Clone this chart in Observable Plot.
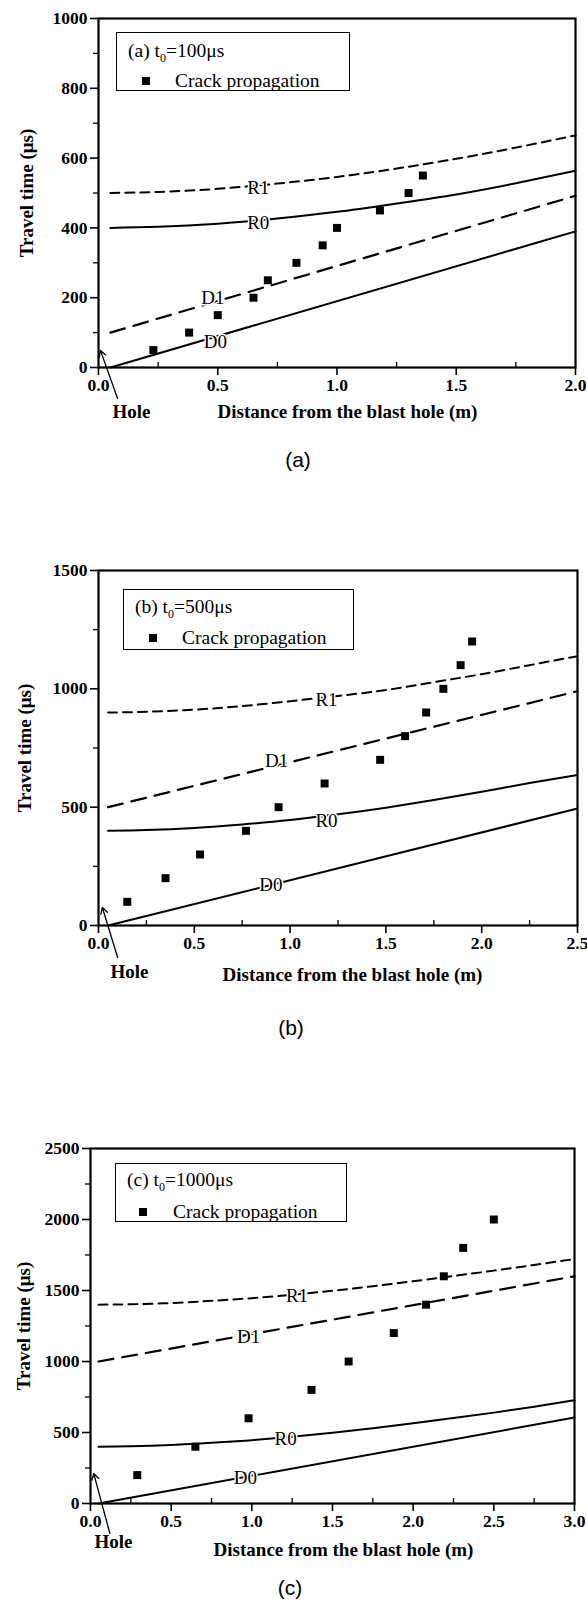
<!DOCTYPE html>
<html><head><meta charset="utf-8">
<script src="https://cdn.jsdelivr.net/npm/d3@7"></script>
<script src="https://cdn.jsdelivr.net/npm/@observablehq/plot@0.6"></script>
<style>
body{margin:0;background:#fff;}
#wrap{position:relative;width:587px;height:1603px;background:#fff;font-family:'Liberation Serif',serif;overflow:hidden;}
.panel{position:absolute;left:0;}
.legend{position:absolute;border:1.6px solid #000;background:#fff;box-sizing:border-box;}
.lt{position:absolute;font-family:'Liberation Serif',serif;font-size:19.5px;line-height:22px;white-space:nowrap;color:#000;}
.lt sub{font-size:12px;}
.mk{position:absolute;width:8px;height:8px;background:#000;}
.cap{position:absolute;font-family:'Liberation Sans',sans-serif;font-size:21px;line-height:22px;transform:translate(-50%,-50%);color:#000;}
</style></head><body><div id="wrap"></div>
<script>
// ---------- Panel (a) t0 = 100 us ----------
const curveXA = [0.05, 0.25, 0.5, 0.75, 1.0, 1.25, 1.5, 1.75, 2.0];
const r0A = [400, 403, 412, 427, 446, 470, 496, 528, 564];
const r1A = [500, 503, 512, 527, 546, 570, 598, 630, 665];
const dXA = [0.05, 2.0];
const d0A = [0, 390];
const d1A = [100, 492];
const crackXA = [0.23, 0.38, 0.5, 0.65, 0.71, 0.83, 0.94, 1.0, 1.18, 1.3, 1.36];
const crackYA = [50, 100, 150, 200, 250, 300, 350, 400, 450, 500, 550];
const labelTextA = ["R1", "R0", "D1", "D0"];
const labelXA = [0.67, 0.67, 0.48, 0.49];
const labelYA = [514, 415, 198, 74];
const holeArrowA = [0.08, -89, 0.008, 49];

// ---------- Panel (b) t0 = 500 us ----------
const curveXB = [0.05, 0.25, 0.5, 0.75, 1.0, 1.25, 1.5, 1.75, 2.0, 2.25, 2.5];
const r0B = [400, 403, 412, 427, 446, 470, 498, 530, 565, 602, 636];
const r1B = [900, 903, 912, 927, 948, 970, 995, 1028, 1062, 1100, 1138];
const dXB = [0.05, 2.5];
const d0B = [0, 494];
const d1B = [500, 990];
const crackXB = [0.15, 0.35, 0.53, 0.77, 0.94, 1.18, 1.47, 1.6, 1.71, 1.8, 1.89, 1.95];
const crackYB = [100, 200, 300, 400, 500, 600, 700, 800, 900, 1000, 1100, 1200];
const labelTextB = ["R1", "R0", "D1", "D0"];
const labelXB = [1.19, 1.19, 0.93, 0.9];
const labelYB = [954, 440, 694, 172];
const holeArrowB = [0.1, -135, 0.02, 76];

// ---------- Panel (c) t0 = 1000 us ----------
const curveXC = [0.05, 0.25, 0.5, 0.75, 1.0, 1.25, 1.5, 1.75, 2.0, 2.25, 2.5, 2.75, 3.0];
const r0C = [400, 403, 412, 427, 446, 470, 498, 530, 565, 602, 640, 682, 728];
const r1C = [1400, 1403, 1412, 1427, 1446, 1470, 1498, 1530, 1565, 1602, 1640, 1680, 1722];
const dXC = [0.05, 3.0];
const d0C = [0, 605];
const d1C = [1000, 1600];
const crackXC = [0.29, 0.65, 0.98, 1.37, 1.6, 1.88, 2.08, 2.19, 2.31, 2.5];
const crackYC = [200, 400, 600, 800, 1000, 1200, 1400, 1600, 1800, 2000];
const labelTextC = ["R1", "R0", "D1", "D0"];
const labelXC = [1.28, 1.21, 0.98, 0.96];
const labelYC = [1460, 453, 1171, 181];
const holeArrowC = [0.12, -211, 0.02, 211];

// ---------- shared texts ----------
const yTitle = "Travel time (\u03bcs)";
const xTitle = "Distance from the blast hole (m)";
const holeText = "Hole";
const legendSeries = "Crack propagation";

const pts = (xs, ys) => xs.map((x, i) => ({x, y: ys[i]}));
const lbls = (ts, xs, ys) => ts.map((t, i) => ({t, x: xs[i], y: ys[i]}));

function makePanel(c) {
  return Plot.plot({
    width: 587, height: c.height,
    marginTop: c.mt, marginLeft: c.ml, marginRight: c.mr, marginBottom: c.mb,
    style: {fontFamily: "'Liberation Serif', serif", fontSize: "17px", background: "transparent", color: "black", overflow: "visible"},
    x: {domain: c.xDomain},
    y: {domain: c.yDomain},
    marks: [
      Plot.axisY({ticks: c.yTicks, tickSize: 8, tickPadding: 3, tickFormat: d3.format("d"), fontWeight: "bold", fontSize: 17.5, strokeWidth: 1.6, label: null}),
      Plot.axisY({ticks: c.yMinor, tickSize: 5, tickFormat: () => "", strokeWidth: 1.3, label: null}),
      Plot.axisX({ticks: c.xTicks, tickSize: 8, tickPadding: 3, tickFormat: d3.format(".1f"), fontWeight: "bold", fontSize: 17.5, strokeWidth: 1.6, label: null}),
      Plot.axisX({ticks: c.xMinor, tickSize: 5, dy: -5, tickFormat: () => "", strokeWidth: 1.3, label: null}),
      Plot.line(pts(c.rx, c.r1), {x: "x", y: "y", curve: "natural", strokeWidth: 2, strokeDasharray: "9,6"}),
      Plot.line(pts(c.rx, c.r0), {x: "x", y: "y", curve: "natural", strokeWidth: 2}),
      Plot.line(pts(c.dx, c.d1), {x: "x", y: "y", strokeWidth: 2.2, strokeDasharray: "15,9"}),
      Plot.line(pts(c.dx, c.d0), {x: "x", y: "y", strokeWidth: 2}),
      Plot.text(lbls(c.lt, c.lx, c.ly), {x: "x", y: "y", text: "t", fontSize: 19, fill: "black", stroke: "white", strokeWidth: 3}),
      Plot.dot(pts(c.cx, c.cy), {x: "x", y: "y", symbol: "square", r: 4.5, fill: "black", stroke: "none"}),
      Plot.frame({strokeWidth: 2.2}),
      Plot.arrow([c.arrow], {x1: d => d[0], y1: d => d[1], x2: d => d[2], y2: d => d[3], headLength: 8, strokeWidth: 1.3, stroke: "black"}),
      Plot.text([holeText], {text: d => d, frameAnchor: "bottom-left", textAnchor: "middle", dx: c.holeDx, dy: c.holeDy, fontWeight: "bold", fontSize: 19}),
      Plot.text([xTitle], {text: d => d, frameAnchor: "bottom-left", textAnchor: "middle", dx: c.titleDx, dy: c.titleDy, fontWeight: "bold", fontSize: 19}),
      Plot.text([yTitle], {text: d => d, frameAnchor: "left", textAnchor: "middle", rotate: -90, dx: c.yTitleDx, fontWeight: "bold", fontSize: 19})
    ]
  });
}

const range = (a, b, s) => d3.range(a, b + s / 2, s);

const panels = [
  {top: 0, height: 437, mt: 18, ml: 98, mr: 12, mb: 70,
   xDomain: [0, 2], yDomain: [0, 1000],
   xTicks: range(0, 2, 0.5), xMinor: range(0.25, 1.75, 0.5),
   yTicks: range(0, 1000, 200), yMinor: range(100, 900, 200),
   rx: curveXA, r0: r0A, r1: r1A, dx: dXA, d0: d0A, d1: d1A,
   cx: crackXA, cy: crackYA, lt: labelTextA, lx: labelXA, ly: labelYA, arrow: holeArrowA,
   holeDx: 33, holeDy: 50, titleDx: 249, titleDy: 50, yTitleDx: -72,
   legend: {left: 116, top: 32, w: 234, h: 59, t1x: 128, t1y: 52, mx: 146, my: 81, t2x: 175},
   head: "(a) t", t0: "0", val: "=100\u03bcs", cap: "(a)", capX: 298, capY: 460},
  {top: 500, height: 495, mt: 70, ml: 98, mr: 10, mb: 70,
   xDomain: [0, 2.5], yDomain: [0, 1500],
   xTicks: range(0, 2.5, 0.5), xMinor: range(0.25, 2.25, 0.5),
   yTicks: range(0, 1500, 500), yMinor: range(250, 1250, 500),
   rx: curveXB, r0: r0B, r1: r1B, dx: dXB, d0: d0B, d1: d1B,
   cx: crackXB, cy: crackYB, lt: labelTextB, lx: labelXB, ly: labelYB, arrow: holeArrowB,
   holeDx: 31, holeDy: 52, titleDx: 254, titleDy: 55, yTitleDx: -74,
   legend: {left: 123, top: 589, w: 231, h: 61, t1x: 135, t1y: 608, mx: 153, my: 638, t2x: 182},
   head: "(b) t", t0: "0", val: "=500\u03bcs", cap: "(b)", capX: 291, capY: 1028},
  {top: 1100, height: 463, mt: 48, ml: 90, mr: 13, mb: 60,
   xDomain: [0, 3], yDomain: [0, 2500],
   xTicks: range(0, 3, 0.5), xMinor: range(0.25, 2.75, 0.5),
   yTicks: range(0, 2500, 500), yMinor: range(250, 2250, 500),
   rx: curveXC, r0: r0C, r1: r1C, dx: dXC, d0: d0C, d1: d1C,
   cx: crackXC, cy: crackYC, lt: labelTextC, lx: labelXC, ly: labelYC, arrow: holeArrowC,
   holeDx: 23, holeDy: 44, titleDx: 253, titleDy: 52, yTitleDx: -67,
   legend: {left: 115, top: 1163, w: 232, h: 59, t1x: 127, t1y: 1181, mx: 143, my: 1212, t2x: 173},
   head: "(c) t", t0: "0", val: "=1000\u03bcs", cap: "(c)", capX: 290, capY: 1588}
];

const wrap = document.getElementById("wrap");
for (const p of panels) {
  const div = document.createElement("div");
  div.className = "panel";
  div.style.top = p.top + "px";
  div.appendChild(makePanel(p));
  wrap.appendChild(div);

  const L = p.legend;
  const box = document.createElement("div");
  box.className = "legend";
  Object.assign(box.style, {left: L.left + "px", top: L.top + "px", width: L.w + "px", height: L.h + "px"});
  wrap.appendChild(box);

  const t1 = document.createElement("div");
  t1.className = "lt";
  t1.style.left = L.t1x + "px";
  t1.style.top = (L.t1y - 12) + "px";
  t1.innerHTML = p.head + "<sub>" + p.t0 + "</sub>" + p.val;
  wrap.appendChild(t1);

  const mk = document.createElement("div");
  mk.className = "mk";
  mk.style.left = (L.mx - 4) + "px";
  mk.style.top = (L.my - 4) + "px";
  wrap.appendChild(mk);

  const t2 = document.createElement("div");
  t2.className = "lt";
  t2.style.left = L.t2x + "px";
  t2.style.top = (L.my - 11) + "px";
  t2.textContent = legendSeries;
  wrap.appendChild(t2);

  const cap = document.createElement("div");
  cap.className = "cap";
  cap.style.left = p.capX + "px";
  cap.style.top = p.capY + "px";
  cap.textContent = p.cap;
  wrap.appendChild(cap);
}
</script></body></html>
